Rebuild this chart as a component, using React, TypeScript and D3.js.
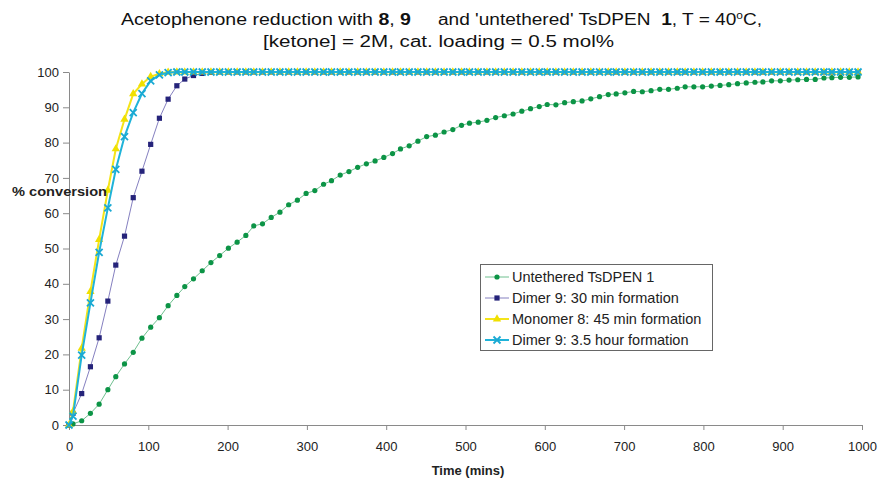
import React, { useEffect, useRef } from 'react'
import * as d3 from 'd3'

// sample times (mins), shared by all four runs
const times = [0, 5, 16, 27, 38, 49, 59, 70, 81, 92, 103, 114, 125, 136, 146, 157, 168, 179, 190, 201,
  212, 223, 233, 244, 255, 266, 277, 288, 299, 310, 321, 331, 342, 353, 364, 375, 386, 397, 408, 418,
  429, 440, 451, 462, 473, 484, 495, 505, 516, 527, 538, 549, 560, 571, 582, 593, 603, 614, 625, 636,
  647, 658, 669, 680, 690, 701, 712, 723, 734, 745, 756, 767, 777, 788, 799, 810, 821, 832, 843, 854,
  865, 875, 886, 897, 908, 919, 930, 941, 952, 962, 973, 984, 995]

const untethered = [0, 0.3, 1.2, 3.3, 5.9, 10.0, 13.7, 17.3, 20.6, 24.6, 27.7, 30.4, 33.8, 36.7, 39.2, 41.4, 43.7, 46.0, 48.0, 50.1,
  51.8, 53.7, 56.4, 57.0, 58.8, 60.3, 62.4, 63.7, 65.6, 66.4, 68.2, 69.2, 70.8, 71.8, 73.0, 74.0, 74.8, 75.8, 76.9, 78.2,
  79.1, 80.4, 81.7, 82.1, 83.0, 83.7, 84.9, 85.5, 85.8, 86.3, 87.1, 87.6, 88.1, 88.9, 89.6, 90.2, 90.8, 90.7, 91.3, 91.6,
  91.8, 92.4, 93.0, 93.6, 93.8, 94.1, 94.5, 94.4, 94.7, 95.1, 95.1, 95.4, 95.8, 95.8, 95.8, 96.0, 96.2, 96.4, 96.7, 96.9,
  97.1, 97.2, 97.5, 97.5, 97.7, 97.8, 97.9, 97.9, 98.3, 98.4, 98.5, 98.5, 98.6]

const dimer30 = [0, 3.3, 8.9, 16.5, 24.7, 35.1, 45.3, 53.5, 64.4, 71.9, 79.5, 86.9, 92.3, 96.1, 98.0, 99.0, 99.6, 99.9, 100, 100,
  100, 100, 100, 100, 100, 100, 100, 100, 100, 100, 100, 100, 100, 100, 100, 100, 100, 100, 100, 100,
  100, 100, 100, 100, 100, 100, 100, 100, 100, 100, 100, 100, 100, 100, 100, 100, 100, 100, 100, 100,
  100, 100, 100, 100, 100, 100, 100, 100, 100, 100, 100, 100, 100, 100, 100, 100, 100, 100, 100, 100,
  100, 100, 100, 100, 100, 100, 100, 100, 100, 100, 100, 100, 100]

const monomer45 = [0, 3.8, 21.7, 37.8, 52.5, 66.5, 78.2, 86.6, 93.8, 96.6, 98.7, 99.5, 99.9, 100, 100, 100, 100, 100, 100, 100,
  100, 100, 100, 100, 100, 100, 100, 100, 100, 100, 100, 100, 100, 100, 100, 100, 100, 100, 100, 100,
  100, 100, 100, 100, 100, 100, 100, 100, 100, 100, 100, 100, 100, 100, 100, 100, 100, 100, 100, 100,
  100, 100, 100, 100, 100, 100, 100, 100, 100, 100, 100, 100, 100, 100, 100, 100, 100, 100, 100, 100,
  100, 100, 100, 100, 100, 100, 100, 100, 100, 100, 100, 100, 100]

const dimer35h = [0, 2.5, 19.8, 34.6, 48.9, 61.5, 72.4, 81.7, 88.5, 93.9, 97.5, 99.2, 99.8, 100, 100, 100, 100, 100, 100, 100,
  100, 100, 100, 100, 100, 100, 100, 100, 100, 100, 100, 100, 100, 100, 100, 100, 100, 100, 100, 100,
  100, 100, 100, 100, 100, 100, 100, 100, 100, 100, 100, 100, 100, 100, 100, 100, 100, 100, 100, 100,
  100, 100, 100, 100, 100, 100, 100, 100, 100, 100, 100, 100, 100, 100, 100, 100, 100, 100, 100, 100,
  100, 100, 100, 100, 100, 100, 100, 100, 100, 100, 100, 100, 100]

const seriesNames = ['Untethered TsDPEN 1', 'Dimer 9: 30 min formation', 'Monomer 8: 45 min formation', 'Dimer 9: 3.5 hour formation']
const xTicks = [0, 100, 200, 300, 400, 500, 600, 700, 800, 900, 1000]
const yTicks = [0, 10, 20, 30, 40, 50, 60, 70, 80, 90, 100]

const FONT = "'Liberation Sans', Arial, sans-serif"

const styles = [
  { line: '#6fc08f', lw: 1, color: '#0c9446', marker: 'circle' },
  { line: '#8580c0', lw: 1, color: '#25237a', marker: 'square' },
  { line: '#f4e41a', lw: 2, color: '#f0e000', marker: 'triangle' },
  { line: '#1fb3d9', lw: 2, color: '#1aa9d3', marker: 'cross' },
]

function drawMarker(g: any, kind: string, color: string, cx: number, cy: number) {
  if (kind === 'circle') {
    g.append('circle').attr('cx', cx).attr('cy', cy).attr('r', 2.6).attr('fill', color)
  } else if (kind === 'square') {
    g.append('rect').attr('x', cx - 2.6).attr('y', cy - 2.6).attr('width', 5.2).attr('height', 5.2).attr('fill', color)
  } else if (kind === 'triangle') {
    g.append('path').attr('d', d3.symbol(d3.symbolTriangle, 30)()).attr('transform', `translate(${cx},${cy})`).attr('fill', color)
  } else {
    g.append('path').attr('d', `M${cx - 3.5},${cy - 3.5}L${cx + 3.5},${cy + 3.5}M${cx - 3.5},${cy + 3.5}L${cx + 3.5},${cy - 3.5}`)
      .attr('stroke', color).attr('stroke-width', 1.8).attr('fill', 'none')
  }
}

export default function App() {
  const ref = useRef<SVGSVGElement>(null)

  useEffect(() => {
    const svg = d3.select(ref.current)
    svg.selectAll('*').remove()

    const x = d3.scaleLinear().domain([0, 1000]).range([69, 862])
    const y = d3.scaleLinear().domain([0, 100]).range([425, 72])

    // axes
    const xAxis = svg.append('g').attr('transform', 'translate(0,425)')
      .call(d3.axisBottom(x).tickValues(xTicks).tickFormat(d3.format('d')).tickSize(5).tickSizeOuter(0).tickPadding(12))
    const yAxis = svg.append('g').attr('transform', 'translate(69,0)')
      .call(d3.axisLeft(y).tickValues(yTicks).tickSize(6).tickSizeOuter(0).tickPadding(4))
    for (const ax of [xAxis, yAxis]) {
      ax.select('.domain').attr('stroke', '#8a8a8a')
      ax.selectAll('.tick line').attr('stroke', '#8a8a8a')
      ax.selectAll('.tick text').attr('fill', '#222').style('font-family', FONT).style('font-size', '13px')
    }

    const all = [untethered, dimer30, monomer45, dimer35h]
    all.forEach((vals, si) => {
      const st = styles[si]
      const pts: [number, number][] = vals.map((v, i) => [times[i], v])
      const line = d3.line<[number, number]>().x(d => x(d[0])).y(d => y(d[1]))
      const g = svg.append('g')
      g.append('path').attr('d', line(pts)).attr('fill', 'none').attr('stroke', st.line).attr('stroke-width', st.lw)
      pts.forEach(p => drawMarker(g, st.marker, st.color, x(p[0]), y(p[1])))
    })

    // title (the reference type is wide, so each piece is stretched to its measured span)
    const tStyle = (t: any) => t.attr('fill', '#111').style('font-family', FONT).style('font-size', '16px')
      .style('white-space', 'pre').attr('lengthAdjust', 'spacingAndGlyphs')
    const t1 = tStyle(svg.append('text').attr('x', 121).attr('y', 25).attr('textLength', 290))
    t1.append('tspan').text('Acetophenone reduction with ')
    t1.append('tspan').attr('font-weight', 'bold').text('8')
    t1.append('tspan').text(', ')
    t1.append('tspan').attr('font-weight', 'bold').text('9')
    const t2 = tStyle(svg.append('text').attr('x', 438).attr('y', 25).attr('textLength', 324))
    t2.append('tspan').text('and \'untethered\' TsDPEN  ')
    t2.append('tspan').attr('font-weight', 'bold').text('1')
    t2.append('tspan').text(', T = 40')
    t2.append('tspan').attr('dy', -6).style('font-size', '10px').text('o')
    t2.append('tspan').attr('dy', 6).text('C,')
    tStyle(svg.append('text').attr('x', 263).attr('y', 47).attr('textLength', 351))
      .text('[ketone] = 2M, cat. loading = 0.5 mol%')

    // axis titles
    svg.append('text').attr('x', 12).attr('y', 196).attr('textLength', 95).attr('lengthAdjust', 'spacingAndGlyphs')
      .style('font-family', FONT).style('font-size', '12.5px').attr('font-weight', 'bold').attr('fill', '#222')
      .text('% conversion')
    svg.append('text').attr('x', 468).attr('y', 475).attr('text-anchor', 'middle')
      .style('font-family', FONT).style('font-size', '13px').attr('font-weight', 'bold').attr('fill', '#222')
      .text('Time (mins)')

    // legend
    const lg = svg.append('g')
    lg.append('rect').attr('x', 480.5).attr('y', 264.5).attr('width', 232).attr('height', 86)
      .attr('fill', 'white').attr('stroke', '#666')
    seriesNames.forEach((name, i) => {
      const st = styles[i]
      const ly = 277 + i * 21
      lg.append('line').attr('x1', 485).attr('x2', 509).attr('y1', ly).attr('y2', ly)
        .attr('stroke', st.line).attr('stroke-width', st.lw)
      drawMarker(lg, st.marker, st.color, 497, ly)
      lg.append('text').attr('x', 512).attr('y', ly).attr('dy', '0.35em').attr('fill', '#222')
        .style('font-family', FONT).style('font-size', '14.5px').text(name)
    })
  }, [])

  return (
    <div style={{ position: 'absolute', left: 0, top: 0 }}>
      <svg ref={ref} width={881} height={480} style={{ display: 'block', background: 'white' }} />
    </div>
  )
}
